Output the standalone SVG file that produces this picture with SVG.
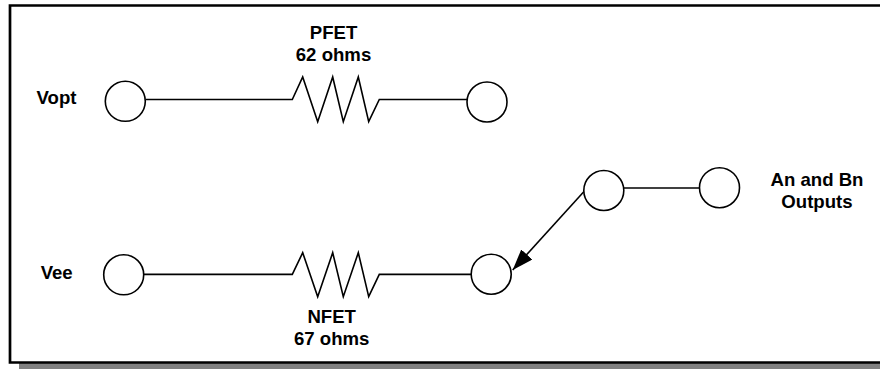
<svg xmlns="http://www.w3.org/2000/svg" width="880" height="369" viewBox="0 0 880 369">
<style>
.n{fill:#fff;stroke:#000;stroke-width:1.6}
.w{fill:none;stroke:#000;stroke-width:1.6;stroke-linejoin:miter}
text{font-family:"Liberation Sans",Arial,sans-serif;font-size:18.600px;font-weight:bold;fill:#000;text-anchor:middle}
</style>
<defs><marker id="a" markerUnits="userSpaceOnUse" markerWidth="24" markerHeight="18" refX="21" refY="7.500" orient="auto"><path d="M0 0L21 7.500L0 15Z" fill="#000"/></marker></defs>
<rect width="880" height="369" fill="#fff"/>
<g id="frame"><rect x="19" y="363" width="861" height="6" fill="#808080"/><path d="M880 5.500H10V362.500H880" fill="none" stroke="#000" stroke-width="2.700"/></g>
<g id="connectors">
<path class="w" d="M146 99.500H292.300L302.700 77L317.700 121.700L332.700 77L343.300 121.700L358.300 77L368.700 121.700L379.300 99.500H467"/>
<path class="w" d="M144 274.400H292.300L302.700 252.700L317.700 296.700L332.700 252.700L343.300 296.700L358.300 252.700L368.700 296.700L379.300 274.400H471"/>
<path class="w" d="M624 188H699.500"/>
<path class="w" d="M584 191.500L512.700 270" marker-end="url(#a)"/>
</g>
<g id="n1"><circle class="n" cx="125.300" cy="101.300" r="20"/></g>
<g id="n2"><circle class="n" cx="487" cy="102" r="20"/></g>
<g id="n3"><circle class="n" cx="123.700" cy="274.800" r="20"/></g>
<g id="n4"><circle class="n" cx="491.200" cy="274.200" r="20"/></g>
<g id="n5"><circle class="n" cx="603.800" cy="190.500" r="20"/></g>
<g id="n6"><circle class="n" cx="719.500" cy="187.700" r="20"/></g>
<g id="l1"><text x="333.500" y="39">PFET</text><text x="333.500" y="61">62 ohms</text></g>
<g id="l2"><text x="56.500" y="104">Vopt</text></g>
<g id="l3"><text x="56.700" y="279">Vee</text></g>
<g id="l4"><text x="331.700" y="322.700">NFET</text><text x="331.700" y="345">67 ohms</text></g>
<g id="l5"><text x="817" y="185.700">An and Bn</text><text x="817" y="208">Outputs</text></g>
</svg>
